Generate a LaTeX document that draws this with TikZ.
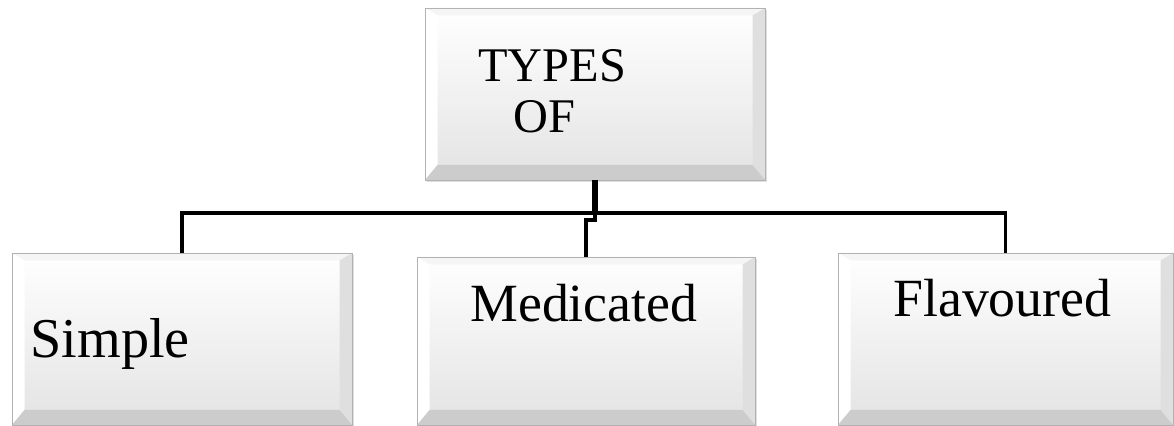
\documentclass[tikz,border=0pt]{standalone}
\usepackage{fontspec}
\setmainfont{Liberation Serif}
\usetikzlibrary{shadows}

\begin{document}
\begin{tikzpicture}[
    box/.style={draw=gray!60, line width=0.5pt, inner sep=0pt,
      minimum width=6.8cm, minimum height=3.44cm,
      top color=white, bottom color=gray!22,
      drop shadow={opacity=0.25, shadow xshift=0.04cm, shadow yshift=-0.04cm},
      path picture={
        \coordinate (bnw) at (path picture bounding box.north west);
        \coordinate (bne) at (path picture bounding box.north east);
        \coordinate (bsw) at (path picture bounding box.south west);
        \coordinate (bse) at (path picture bounding box.south east);
        % bevel edges
        \fill[gray!8] (bnw) -- (bne) -- ([shift={(-0.25,-0.15)}]bne) -- ([shift={(0.25,-0.15)}]bnw) -- cycle;
        \fill[white] (bsw) -- (bnw) -- ([shift={(0.25,-0.15)}]bnw) -- ([shift={(0.25,0.3)}]bsw) -- cycle;
        \fill[gray!25] (bse) -- (bne) -- ([shift={(-0.25,-0.15)}]bne) -- ([shift={(-0.25,0.3)}]bse) -- cycle;
        \fill[gray!40] (bsw) -- (bse) -- ([shift={(-0.25,0.3)}]bse) -- ([shift={(0.25,0.3)}]bsw) -- cycle;
      }},
    boxtext/.style={anchor=base west, inner sep=0pt, text=black},
    link/.style={line width=2pt, black}
  ]
      \useasboundingbox (0,0) rectangle (23.48,8.52);

      % the four boxes
      \node[box] (types) at (11.9,6.64) {};
      \node[box] (simple) at (3.64,1.74) {};
      \node[box, minimum width=6.76cm, minimum height=3.36cm] (medicated) at (11.72,1.70) {};
      \node[box, minimum width=6.7cm] (flavoured) at (20.11,1.74) {};

      % write the texts
      \node[boxtext, font=\fontsize{27.5}{30}\selectfont] (t1) at (9.56,6.88) {TYPES};
      \node[boxtext, font=\fontsize{27.5}{30}\selectfont] (t2) at (10.26,5.86) {OF};
      \node[boxtext, font=\fontsize{32}{36}\selectfont] (t3) at (0.6,1.36) {Simple};
      \node[boxtext, font=\fontsize{30.6}{34}\selectfont] (t4) at (9.4,2.08) {Medicated};
      \node[boxtext, font=\fontsize{30.6}{34}\selectfont] (t5) at (17.86,2.18) {Flavoured};

      % connections
      \coordinate (bus) at (11.9,4.26);
      \draw[link] (simple.north) |- (bus) -| (flavoured.north);
      \draw[link, line width=3pt] (types.south) -- (bus);
      \draw[link, line width=1.8pt] (bus) -- ++(0,-0.14) -| (medicated.north);
\end{tikzpicture}
\end{document}
